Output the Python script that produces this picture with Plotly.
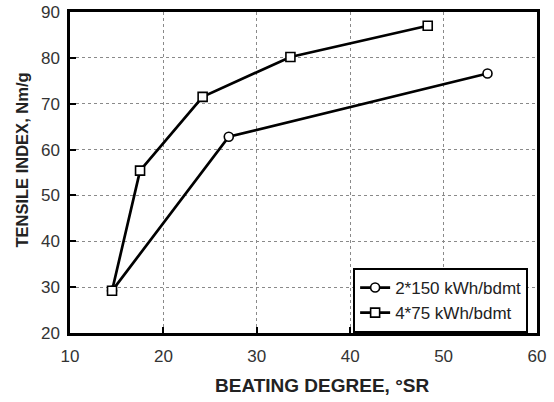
import plotly.graph_objects as go

series1_name = "2*150 kWh/bdmt"
series1_x = [14.5, 27.0, 54.7]
series1_y = [29.2, 62.8, 76.6]

series2_name = "4*75 kWh/bdmt"
series2_x = [14.5, 17.5, 24.2, 33.6, 48.3]
series2_y = [29.2, 55.4, 71.5, 80.2, 87.0]

x_ticks = [10, 20, 30, 40, 50, 60]
y_ticks = [20, 30, 40, 50, 60, 70, 80, 90]

x_title = "BEATING DEGREE, °SR"
y_title = "TENSILE INDEX, Nm/g"

FONT = "Liberation Sans, Arial, Helvetica, sans-serif"

fig = go.Figure()
fig.add_trace(go.Scatter(
    x=series1_x, y=series1_y, name=series1_name, mode="lines+markers",
    line=dict(color="black", width=2.7),
    marker=dict(symbol="circle", size=9, color="white", line=dict(color="black", width=1.6)),
))
fig.add_trace(go.Scatter(
    x=series2_x, y=series2_y, name=series2_name, mode="lines+markers",
    line=dict(color="black", width=2.7),
    marker=dict(symbol="square", size=9, color="white", line=dict(color="black", width=1.6)),
))

axis_common = dict(
    showline=True, linecolor="black", linewidth=2.5, mirror=True,
    showgrid=True, gridcolor="#8a8a8a", griddash="dot", gridwidth=1,
    ticks="inside", ticklen=6, tickwidth=2, tickcolor="black",
    tickfont=dict(family=FONT, size=17, color="#333"),
    zeroline=False, automargin=False, ticklabeloverflow="allow",
)

fig.update_xaxes(range=[10, 60], tickvals=x_ticks, ticktext=[str(v) for v in x_ticks],
                 ticklabelstandoff=6, **axis_common)
fig.update_yaxes(range=[20, 90], tickvals=y_ticks, ticktext=[str(v) for v in y_ticks],
                 ticklabelstandoff=4, **axis_common)

fig.add_annotation(text="<b>" + x_title + "</b>", xref="paper", yref="paper",
                   x=0.54, y=-0.162, xanchor="center", yanchor="middle", showarrow=False,
                   font=dict(family=FONT, size=19, color="#222"))
fig.add_annotation(text="<b>" + y_title + "</b>", xref="paper", yref="paper",
                   x=-0.103, y=0.54, xanchor="center", yanchor="middle", showarrow=False,
                   textangle=-90, font=dict(family=FONT, size=16.5, color="#222"))

fig.update_layout(
    width=554, height=402,
    margin=dict(l=70, r=17, t=12, b=69),
    plot_bgcolor="white", paper_bgcolor="white",
    font=dict(family=FONT, size=17, color="#222"),
    showlegend=True,
    legend=dict(
        x=0.981, y=0.2025, xanchor="right", yanchor="top",
        bgcolor="white", bordercolor="black", borderwidth=2,
        font=dict(family=FONT, size=17, color="#222"),
        tracegroupgap=0, itemwidth=30,
    ),
)

# remove the default page margin so the figure fills the 554x402 window exactly
fig.write_html("out.html", config={"displayModeBar": False},
               post_script="document.body.style.margin='0';")
